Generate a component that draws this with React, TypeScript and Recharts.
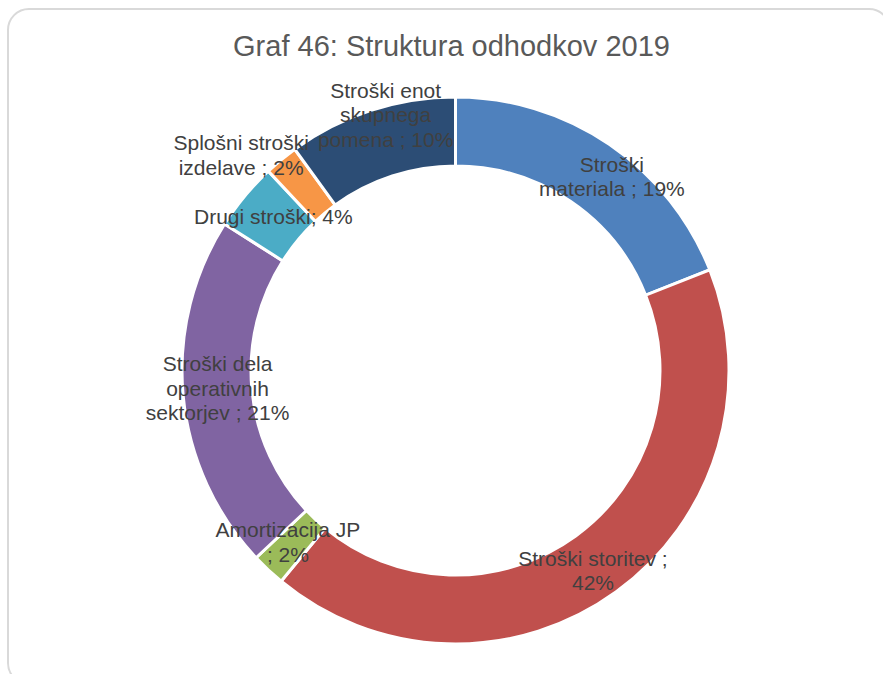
import React from "react";
import { PieChart, Pie, Cell } from "recharts";

// Expense categories (trailing spaces come from the source sheet)
const categories = [
  "Stroški materiala ",
  "Stroški storitev ",
  "Amortizacija JP ",
  "Stroški dela operativnih sektorjev ",
  "Drugi stroški",
  "Splošni stroški izdelave ",
  "Stroški enot skupnega pomena ",
];

// Share of total expenses, %
const shares = [19, 42, 2, 21, 4, 2, 10];

const colors = ["#4F81BD", "#C0504D", "#9BBB59", "#8064A2", "#4BACC6", "#F79646", "#2C4D75"];

// Label wrapping (max characters per line) and nudges from the ring centre line
const wrapChars = [15, 18, 15, 15, 18, 15, 13];
const labelNudge: [number, number][] = [
  [22, 3],
  [-3, 6],
  [-4, -3],
  [0, -5],
  [2, -2],
  [-62, -32],
  [4, -29],
];

const data = categories.map((name, i) => ({ name, value: shares[i] }));

const FONT = "'Liberation Sans', Arial, sans-serif";
const RAD = Math.PI / 180;
const LINE_H = 24.5;

function wrap(text: string, max: number): string[] {
  const words = text.split(" ").filter((w) => w.length > 0);
  const lines: string[] = [];
  let cur = "";
  for (const w of words) {
    const next = cur ? cur + " " + w : w;
    if (next.length > max && cur) {
      lines.push(cur);
      cur = w;
    } else {
      cur = next;
    }
  }
  if (cur) lines.push(cur);
  return lines;
}

const renderLabel = (props: any) => {
  const { cx, cy, midAngle, innerRadius, outerRadius, index, percent } = props;
  const r = (innerRadius + outerRadius) / 2;
  const [dx, dy] = labelNudge[index];
  const x = cx + r * Math.cos(-midAngle * RAD) + dx;
  const y = cy + r * Math.sin(-midAngle * RAD) + dy;
  const text = `${categories[index]}; ${Math.round(percent * 100)}%`;
  const lines = wrap(text, wrapChars[index]);
  const y0 = y - ((lines.length - 1) * LINE_H) / 2;
  return (
    <text
      key={`lbl-${index}`}
      x={x}
      y={y0}
      textAnchor="middle"
      dominantBaseline="central"
      fill="#404040"
      fontSize={21}
      fontFamily={FONT}
    >
      {lines.map((ln, i) => (
        <tspan key={i} x={x} y={y0 + i * LINE_H} dominantBaseline="central">
          {ln}
        </tspan>
      ))}
    </text>
  );
};

export default function App() {
  return (
    <div
      style={{
        position: "absolute",
        left: 0,
        top: 0,
        width: 883,
        height: 674,
        overflow: "hidden",
        background: "#ffffff",
        fontFamily: FONT,
      }}
    >
      <div
        style={{
          position: "absolute",
          left: 7,
          top: 8,
          width: 884,
          height: 677,
          border: "2px solid #D9D9D9",
          borderRadius: 22,
          boxSizing: "border-box",
        }}
      />
      <div
        style={{
          position: "absolute",
          left: 0,
          top: 32,
          width: 903,
          textAlign: "center",
          fontSize: 29,
          lineHeight: "29px",
          color: "#595959",
          whiteSpace: "nowrap",
        }}
      >
        Graf 46: Struktura odhodkov 2019
      </div>
      <div style={{ position: "absolute", left: 0, top: 0 }}>
        <PieChart width={883} height={674} margin={{ top: 0, right: 0, bottom: 0, left: 0 }}>
          <Pie
            data={data}
            dataKey="value"
            nameKey="name"
            cx={455.5}
            cy={370.5}
            innerRadius={204.5}
            outerRadius={273.5}
            startAngle={90}
            endAngle={-270}
            stroke="#ffffff"
            strokeWidth={3}
            label={renderLabel}
            labelLine={false}
            isAnimationActive={false}
          >
            {data.map((d, i) => (
              <Cell key={d.name} fill={colors[i]} />
            ))}
          </Pie>
        </PieChart>
      </div>
    </div>
  );
}
